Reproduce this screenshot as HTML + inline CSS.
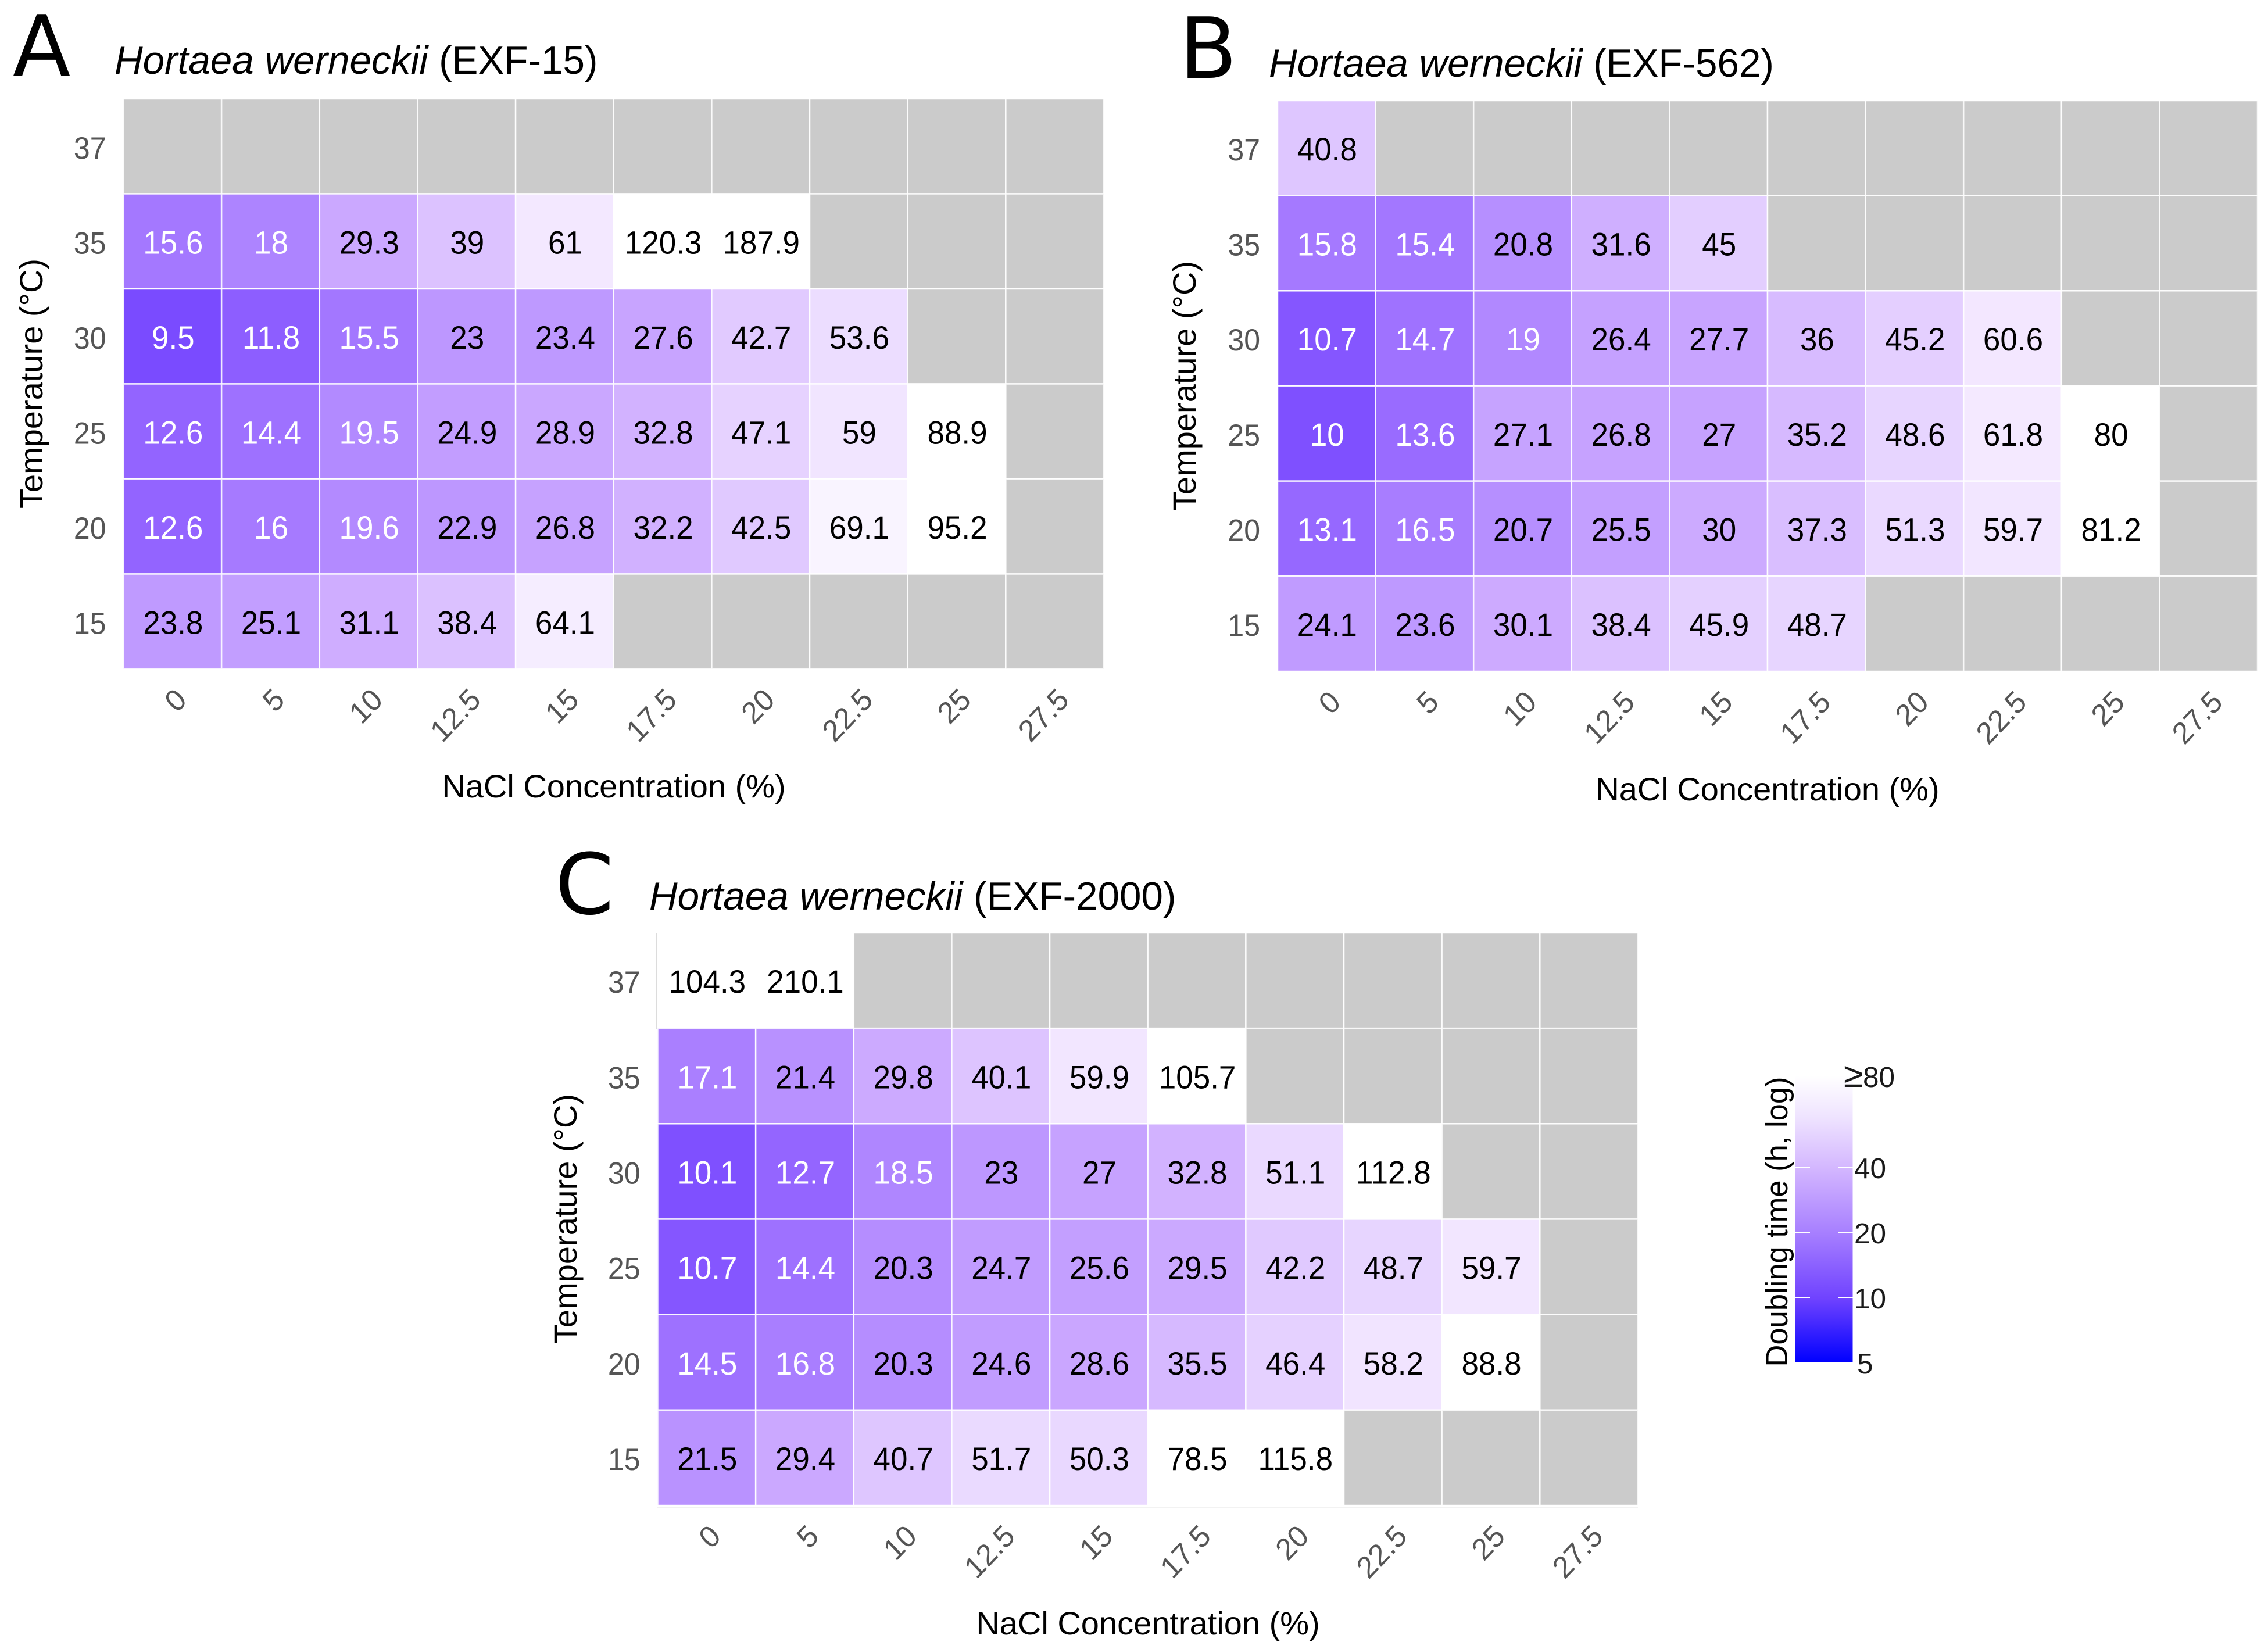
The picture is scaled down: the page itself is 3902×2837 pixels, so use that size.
<!DOCTYPE html>
<html lang="en">
<head>
<meta charset="utf-8">
<title>Hortaea werneckii doubling time heatmaps</title>
<style>
html,body{margin:0;padding:0;background:#fff;}
svg{display:block;}
text{font-family:"Liberation Sans",Arial,sans-serif;}
.letter{font-family:"DejaVu Sans",sans-serif;font-size:145px;fill:#000;}
.title{font-size:67.4px;fill:#000;}
.axis-title{font-size:56px;fill:#000;}
.tick{font-size:50px;fill:#555;}
.val{font-size:53px;text-anchor:middle;}
.leg{font-size:49.5px;fill:#1a1a1a;}
</style>
</head>
<body>
<svg id="chart" xmlns="http://www.w3.org/2000/svg" width="3902" height="2837" viewBox="0 0 3902 2837">
  <rect x="0" y="0" width="3902" height="2837" fill="#fff"/>
  <defs>
    <linearGradient id="legendGradient" x1="0" y1="1" x2="0" y2="0">
      <stop offset="0" stop-color="#0000ff"/>
      <stop offset="0.221" stop-color="#6f42ff"/>
      <stop offset="0.448" stop-color="#a67eff"/>
      <stop offset="0.675" stop-color="#d3b6ff"/>
      <stop offset="0.85" stop-color="#eee2ff"/>
      <stop offset="1" stop-color="#ffffff"/>
    </linearGradient>
  </defs>

  <text class="letter" x="22" y="130">A</text>
  <text class="title" x="197" y="127"><tspan font-style="italic">Hortaea werneckii</tspan> (EXF-15)</text>
  <text class="axis-title" text-anchor="middle" transform="translate(73,660) rotate(-90)">Temperature (°C)</text>
  <text class="axis-title" text-anchor="middle" x="1056" y="1372">NaCl Concentration (%)</text>

  <text class="letter" x="2029" y="134">B</text>
  <text class="title" x="2183" y="132"><tspan font-style="italic">Hortaea werneckii</tspan> (EXF-562)</text>
  <text class="axis-title" text-anchor="middle" transform="translate(2057,664) rotate(-90)">Temperature (°C)</text>
  <text class="axis-title" text-anchor="middle" x="3041" y="1377">NaCl Concentration (%)</text>

  <text class="letter" x="955" y="1572">C</text>
  <text class="title" x="1117" y="1565"><tspan font-style="italic">Hortaea werneckii</tspan> (EXF-2000)</text>
  <text class="axis-title" text-anchor="middle" transform="translate(992,2097) rotate(-90)">Temperature (°C)</text>
  <text class="axis-title" text-anchor="middle" x="1975" y="2812">NaCl Concentration (%)</text>

  <rect x="3089" y="1851" width="98.5" height="493" fill="url(#legendGradient)"/>
  <text class="axis-title" style="font-size:52.5px" text-anchor="middle" transform="translate(3075,2102) rotate(-90)">Doubling time (h, log)</text>
  <g id="legendLayer"></g>
  <g id="panelA"></g>
  <g id="panelB"></g>
  <g id="panelC"></g>
  <line x1="1129.5" x2="1129.5" y1="1605" y2="1770" stroke="#dcdcdc" stroke-width="1.5"/>
  <line x1="1131" x2="2818" y1="2593" y2="2593" stroke="#eeeeee" stroke-width="1.5"/>
</svg>
<script>
const saltCategories = ['0','5','10','12.5','15','17.5','20','22.5','25','27.5'];
const temperatureCategories = ['37','35','30','25','20','15'];

const strainA37 = [null,null,null,null,null,null,null,null,null,null];
const strainA35 = [15.6,18,29.3,39,61,120.3,187.9,null,null,null];
const strainA30 = [9.5,11.8,15.5,23,23.4,27.6,42.7,53.6,null,null];
const strainA25 = [12.6,14.4,19.5,24.9,28.9,32.8,47.1,59,88.9,null];
const strainA20 = [12.6,16,19.6,22.9,26.8,32.2,42.5,69.1,95.2,null];
const strainA15 = [23.8,25.1,31.1,38.4,64.1,null,null,null,null,null];

const strainB37 = [40.8,null,null,null,null,null,null,null,null,null];
const strainB35 = [15.8,15.4,20.8,31.6,45,null,null,null,null,null];
const strainB30 = [10.7,14.7,19,26.4,27.7,36,45.2,60.6,null,null];
const strainB25 = [10,13.6,27.1,26.8,27,35.2,48.6,61.8,80,null];
const strainB20 = [13.1,16.5,20.7,25.5,30,37.3,51.3,59.7,81.2,null];
const strainB15 = [24.1,23.6,30.1,38.4,45.9,48.7,null,null,null,null];

const strainC37 = [104.3,210.1,null,null,null,null,null,null,null,null];
const strainC35 = [17.1,21.4,29.8,40.1,59.9,105.7,null,null,null,null];
const strainC30 = [10.1,12.7,18.5,23,27,32.8,51.1,112.8,null,null];
const strainC25 = [10.7,14.4,20.3,24.7,25.6,29.5,42.2,48.7,59.7,null];
const strainC20 = [14.5,16.8,20.3,24.6,28.6,35.5,46.4,58.2,88.8,null];
const strainC15 = [21.5,29.4,40.7,51.7,50.3,78.5,115.8,null,null,null];

const legendValues = [5,10,20,40,80];
const legendLabels = ['5','10','20','40','80'];

const colorDomain = [5,9.5,12.6,15.6,23.8,29.3,39,61,78];
const colorRange = [[0,0,255],[122,75,255],[147,100,255],[164,120,255],[191,154,255],[203,168,255],[220,194,255],[243,232,255],[255,255,255]];

const NS = 'http://www.w3.org/2000/svg';

function colorFor(v) {
  if (v >= colorDomain[colorDomain.length - 1]) return 'rgb(255,255,255)';
  for (let i = 1; i < colorDomain.length; i++) {
    if (v <= colorDomain[i]) {
      const t = (Math.log(v) - Math.log(colorDomain[i - 1])) / (Math.log(colorDomain[i]) - Math.log(colorDomain[i - 1]));
      const a = colorRange[i - 1];
      const b = colorRange[i];
      return 'rgb(' + a.map((c, k) => Math.round(c + (b[k] - c) * t)).join(',') + ')';
    }
  }
  return 'rgb(255,255,255)';
}

function drawPanel(id, rows, left, top, right, bottom) {
  const group = document.getElementById(id);
  const cellW = (right - left) / saltCategories.length;
  const cellH = (bottom - top) / temperatureCategories.length;
  const xScale = i => left + i * cellW;
  const yScale = j => top + j * cellH;

  rows.forEach((row, j) => {
    row.forEach((v, i) => {
      const r = document.createElementNS(NS, 'rect');
      
      
      r.setAttribute('x', xScale(i));
      r.setAttribute('y', yScale(j));
      r.setAttribute('width', cellW);
      r.setAttribute('height', cellH);
      r.setAttribute('fill', v === null ? '#cbcbcb' : colorFor(v));
      r.setAttribute('stroke', '#fff');
      r.setAttribute('stroke-opacity', '0.85');
      r.setAttribute('stroke-width', '2.5');
      group.appendChild(r);
      if (v !== null) {
        const t = document.createElementNS(NS, 'text');
        
        
        t.setAttribute('class', 'val');
        const vx = xScale(i) + cellW / 2 + 1;
        const vy = yScale(j) + cellH / 2 + 21;
        t.setAttribute('transform', 'translate(' + vx + ',' + vy + ') scale(1,1.05)');
        t.setAttribute('fill', v < 20 ? '#fff' : '#000');
        t.textContent = String(v);
        group.appendChild(t);
      }
    });
  });

  temperatureCategories.forEach((label, j) => {
    const t = document.createElementNS(NS, 'text');
    
    
    t.setAttribute('class', 'tick');
    t.setAttribute('text-anchor', 'end');
    const tx = left - 30;
    const ty = yScale(j) + cellH / 2 + 21;
    t.setAttribute('transform', 'translate(' + tx + ',' + ty + ') scale(1,1.05)');
    t.textContent = label;
    group.appendChild(t);
  });

  saltCategories.forEach((label, i) => {
    const t = document.createElementNS(NS, 'text');
    
    
    t.setAttribute('class', 'tick');
    t.setAttribute('text-anchor', 'end');
    const ax = xScale(i) + cellW / 2 + 27;
    const ay = bottom + 56;
    t.setAttribute('transform', 'translate(' + ax + ',' + ay + ') scale(1,1.05) rotate(-45)');
    t.textContent = label;
    group.appendChild(t);
  });
}

function legendScale(v) {
  return 2344 - 112 * Math.log2(v / 5);
}

function drawLegend() {
  const group = document.getElementById('legendLayer');
  legendValues.forEach((v, i) => {
    const isLast = i === legendValues.length - 1;
    const atEnd = i === 0 || isLast;
    const y = isLast ? 1851 : legendScale(v);
    if (!atEnd) {
      [[3089, 3114], [3163, 3187.5]].forEach(seg => {
        const l = document.createElementNS(NS, 'line');
        
        
        l.setAttribute('x1', seg[0]);
        l.setAttribute('x2', seg[1]);
        l.setAttribute('y1', y);
        l.setAttribute('y2', y);
        l.setAttribute('stroke', '#fff');
        l.setAttribute('stroke-width', '2');
        group.appendChild(l);
      });
    }
    const t = document.createElementNS(NS, 'text');
    
    
    t.setAttribute('class', 'leg');
    let lx = 3190;
    if (i === 0) lx = 3195;
    if (isLast) lx = 3172;
    t.setAttribute('x', lx);
    t.setAttribute('y', y + 19);
    if (isLast) {
      const geq = document.createElementNS(NS, 'tspan');
      geq.setAttribute('font-size', '60');
      geq.textContent = '≥';
      t.appendChild(geq);
      t.appendChild(document.createTextNode(legendLabels[i]));
    } else {
      t.textContent = legendLabels[i];
    }
    group.appendChild(t);
  });
}

drawPanel('panelA', [strainA37, strainA35, strainA30, strainA25, strainA20, strainA15], 212.5, 170, 1899, 1151);
drawPanel('panelB', [strainB37, strainB35, strainB30, strainB25, strainB20, strainB15], 2198, 173, 3884, 1155);
drawPanel('panelC', [strainC37, strainC35, strainC30, strainC25, strainC20, strainC15], 1131.5, 1605, 2818, 2590);
drawLegend();
</script>
</body>
</html>
